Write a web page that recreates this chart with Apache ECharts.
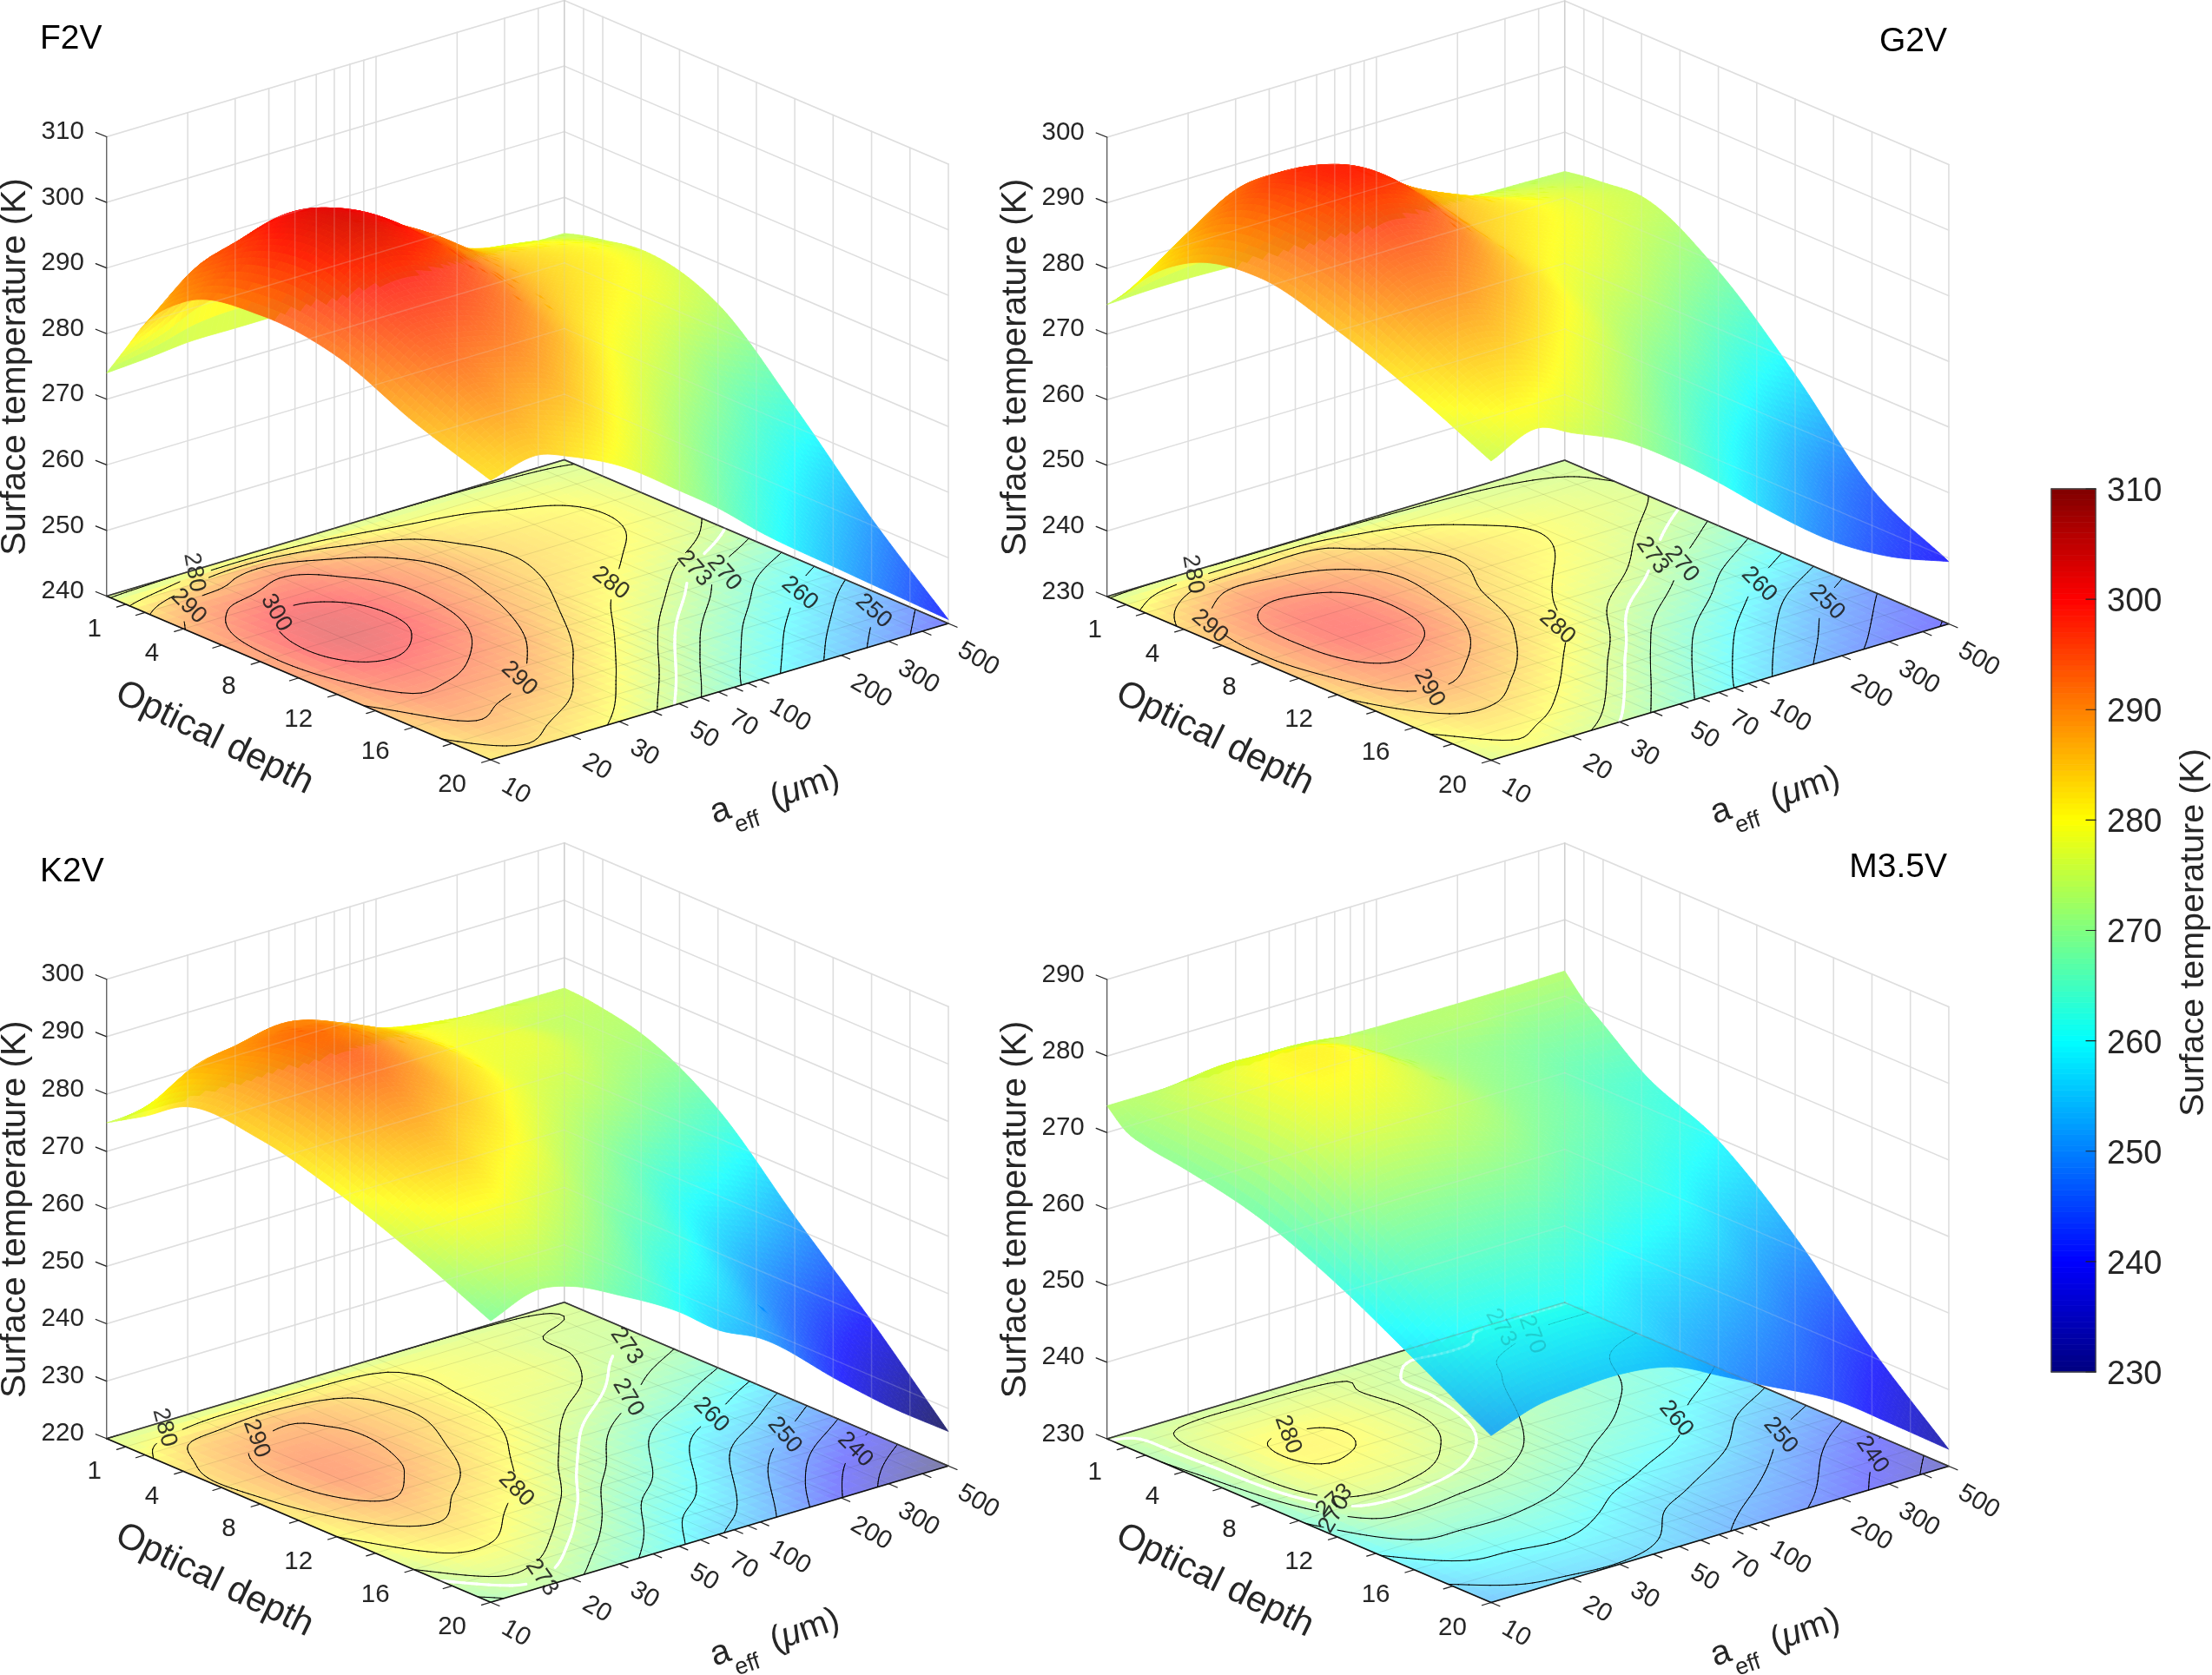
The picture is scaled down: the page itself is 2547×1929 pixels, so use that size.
<!DOCTYPE html>
<html><head><meta charset="utf-8">
<style>html,body{margin:0;padding:0;background:#fff}#c{width:2547px;height:1929px}</style>
<script src="https://cdn.jsdelivr.net/npm/echarts@6/dist/echarts.min.js"></script>
</head><body><div id="c"></div>
<script>
// ---------- values ----------
const opticalDepths=[0,1,2,4,8,12,16,20];
const aEffs=[10,15,20,30,50,70,100,200,300,500];
const opticalTicks=[1,2,4,6,8,10,12,14,16,18,20];
const opticalLabels=[1,4,8,12,16,20];
const aTicks=[10,20,30,40,50,60,70,80,90,100,200,300,400,500];
const aLabels=[10,20,30,50,70,100,200,300,500];
const colorbarTicks=[230,240,250,260,270,280,290,300,310];
const tempF2V=[
[274,274.5,275,275,275,275,275,274.8,274.6,274.5],
[279,282.5,286,288,284,281,279,278,277,275.4],
[284,289.5,290.5,293.5,289,286,283,279.6,278.5,276],
[289.8,295.5,298,298,293.5,290.3,286,282,280.3,277],
[292.8,300.5,303,301,294.5,290,286,280.7,278,273.7],
[291.5,297,297.5,295.3,290,285.2,280.5,272.8,267.5,263],
[286.5,291.5,290.2,288,281.6,277,272,262.5,257.5,251],
[282.6,284.3,282.5,279,272.5,268,262.5,253,247.5,240.6]];
const tempG2V=[
[274.5,274.8,274.8,274.6,274.5,274.5,274.4,274.3,274.2,274],
[277.5,282,284,284.5,284.5,281,279,276.5,275.5,274.5],
[281,286.5,289.5,289,287,284,281.5,277.5,276.5,274.8],
[285.7,292.5,295,294.5,290.5,287,284,279.5,277.5,275.2],
[288.5,295,298.5,297.5,289.8,284.7,281.5,276.5,273,268.8],
[285.5,292,293,290.2,284,280,275,268,263,258],
[281,285,285,281.5,275.5,271,266,256.5,251,245.6],
[275.6,278.5,276.2,273,266.8,262,256.5,247,243,239.5]];
const tempK2V=[
[275,275,275,275,275,275,275,274.9,274.8,274.7],
[277,279.7,281,281.5,281,280.5,279,277,276,274.5],
[279,285,286,287.5,285,282.5,280,277,275,274],
[283.5,288.5,291,291,287,284,280,277.5,274.5,272.5],
[283.5,290,293.5,291,285,281.5,277.5,272,268.5,265],
[280,285.5,287,283.7,279,274.3,270,260.8,257.5,252],
[275,279.5,279.5,276,270,265,261.5,250.5,245,239.5],
[269,272,270.8,266.8,260.8,255.6,252,240.2,233.5,226]];
const tempM35V=[
[273.5,273.5,273.5,273.4,273.4,273.4,273.3,273.2,273.2,273.3],
[271.2,275,276,276,275.7,274.8,273.2,272.8,270.8,270.5],
[270.4,275.8,277.5,277.5,276.5,274.2,272.5,270.5,269,268.5],
[269.6,276.3,279.8,280.5,277.5,274.4,272,268.7,266.3,264.5],
[267.3,275.8,278,277.5,274.5,272.3,269.5,265.5,263,259.7],
[263,269,269.5,269,268,266,263.5,259.4,255,251.4],
[257.5,261,261.3,261.8,259.7,257,255.2,250.3,246,241],
[251.8,254,254.5,254.8,253.4,250.8,248,242.5,238,232.2]];
const contourLevels=[235,240,245,250,255,260,265,270,273,275,280,285,290,295,300,305];

// ---------- layout ----------
const FONT='"Liberation Sans",Arial,sans-serif', INK='#262626';
const panels=[
 {name:'F2V',temps:tempF2V,zMin:240,zMax:310,x0:122.8,y0:686.5,title:[46,45,'left'],
  labels:[['280',100.8,-27.3,80],['290',94.3,11.7,45],['300',195.2,19.3,60],['280',580.4,-15,37],['290',475,95,43],['273',676.6,-31.7,49],['270',711,-26.7,49],['260',798,-3.3,40],['250',883,17.3,42]]},
 {name:'G2V',temps:tempG2V,zMin:230,zMax:300,x0:1274.7,y0:687,title:[2242,48,'right'],
  labels:[['280',98.9,-25.7,80],['290',118.4,34.3,40],['290',370.9,105.3,60],['280',518.5,35.3,42],['273',627.8,-47.3,55],['270',661.7,-37.3,50],['260',750.8,-14,45],['250',828.9,6.7,45]]},
 {name:'K2V',temps:tempK2V,zMin:220,zMax:300,x0:122.8,y0:1656.7,title:[46,1004,'left'],
  labels:[['280',66.4,-12.7,75],['290',172.4,0,70],['280',471.7,58.3,45],['273',598.6,-106.7,55],['270',600.5,-47.3,60],['260',696.2,-27.3,45],['250',780.7,-4,50],['240',862,12.7,45],['273',501,160,55]]},
 {name:'M3.5V',temps:tempM35V,zMin:230,zMax:290,x0:1274.7,y0:1657,title:[2242,999,'right'],
  labels:[['280',208.2,-5,70],['273',261.5,71.7,-40],['270',261.5,86.7,-60],['273',453.5,-128.3,60],['270',489.3,-120,70],['260',655.2,-23.3,50],['250',775.5,-4,50],['240',881,18.3,55]]}
];
const EX=[442.2,188.5],EY=[527,-157],EZ=529;
const NS=80,NF=40,SURF_ALPHA=.82,FLOOR_ALPHA=.5;

// ---------- helpers ----------
const clamp=x=>Math.max(0,Math.min(1,x));
const jet=T=>{const t=(T-230)/80;return [clamp(1.5-Math.abs(4*t-3))*255,clamp(1.5-Math.abs(4*t-2))*255,clamp(1.5-Math.abs(4*t-1))*255];};
const rgb=c=>'rgb('+Math.round(c[0])+','+Math.round(c[1])+','+Math.round(c[2])+')';
const mix=(c,b,a)=>[c[0]*a+b[0]*(1-a),c[1]*a+b[1]*(1-a),c[2]*a+b[2]*(1-a)];
const vOf=a=>Math.log10(a/10)/Math.log10(50);
function proj(p,u,v,T){const w=(T-p.zMin)/(p.zMax-p.zMin);
 return [p.x0+EX[0]*u+EY[0]*v,p.y0+EX[1]*u+EY[1]*v-w*EZ];}
function hermite(xs,ys,x){
 const n=xs.length;let i=0;while(i<n-2&&x>xs[i+1])i++;
 const slope=k=>(ys[k+1]-ys[k])/(xs[k+1]-xs[k]);
 const tan=k=>{if(k===0)return slope(0);if(k===n-1)return slope(n-2);
  const h0=xs[k]-xs[k-1],h1=xs[k+1]-xs[k];return (h1*slope(k-1)+h0*slope(k))/(h0+h1);};
 const h=xs[i+1]-xs[i],s=(x-xs[i])/h,s2=s*s,s3=s2*s;
 return (2*s3-3*s2+1)*ys[i]+(s3-2*s2+s)*h*tan(i)+(-2*s3+3*s2)*ys[i+1]+(s3-s2)*h*tan(i+1);
}
const vNodes=aEffs.map(vOf),uNodes=opticalDepths.map(o=>o/20);
function fine(table,N){
 const byCol=aEffs.map((_,j)=>{const col=table.map(r=>r[j]);
  return Array.from({length:N+1},(_,i)=>hermite(uNodes,col,i/N));});
 return Array.from({length:N+1},(_,i)=>{const row=byCol.map(c=>c[i]);
  return Array.from({length:N+1},(_,j)=>hermite(vNodes,row,j/N));});
}

// colour buffer so that the see-through surface layers add up without mesh seams
const BW=1274,BH=965,buf=new Float32Array(BW*BH*3).fill(255);
function sample(x,y){const i=Math.max(0,Math.min(BW-1,x/2|0)),j=Math.max(0,Math.min(BH-1,y/2|0)),k=(j*BW+i)*3;return [buf[k],buf[k+1],buf[k+2]];}
function paint(pts,c){
 let a=1e9,b=-1e9,d=1e9,e=-1e9;pts.forEach(p=>{a=Math.min(a,p[0]);b=Math.max(b,p[0]);d=Math.min(d,p[1]);e=Math.max(e,p[1]);});
 for(let j=Math.max(0,Math.floor(d/2)-1);j<=Math.min(BH-1,Math.ceil(e/2));j++)for(let i=Math.max(0,Math.floor(a/2)-1);i<=Math.min(BW-1,Math.ceil(b/2));i++){
  const x=i*2+1,y=j*2+1;let inside=false;
  for(let m=0,n=pts.length-1;m<pts.length;n=m++){const A=pts[m],B=pts[n];
   if((A[1]>y)!==(B[1]>y)&&x<(B[0]-A[0])*(y-A[1])/(B[1]-A[1])+A[0])inside=!inside;}
  if(inside){const k=(j*BW+i)*3;buf[k]=c[0];buf[k+1]=c[1];buf[k+2]=c[2];}
 }
}

// ---------- build marks ----------
const floorQuads=[],surfQuads=[],wallLines=[],floorLines=[],axisLines=[],contours=[],texts=[],underTexts=[];
function line(list,a,b,color,width,alpha){list.push({a,b,color,width,alpha:alpha==null?1:alpha});}

panels.forEach(p=>{
 const T=p.zMin,Tm=p.zMax,zTicks=[];for(let z=T;z<=Tm;z+=10)zTicks.push(z);
 const GRID='#dedede';
 // walls
 zTicks.forEach(z=>{line(wallLines,proj(p,0,0,z),proj(p,0,1,z),GRID,1.5);line(wallLines,proj(p,0,1,z),proj(p,1,1,z),GRID,1.5);});
 aTicks.forEach(a=>{if(a>10)line(wallLines,proj(p,0,vOf(a),T),proj(p,0,vOf(a),Tm),a===500?'#cfcfcf':GRID,1.5);
   line(floorLines,proj(p,0,vOf(a),T),proj(p,1,vOf(a),T),'#000',1,.09);});
 opticalTicks.forEach(o=>{line(wallLines,proj(p,o/20,1,T),proj(p,o/20,1,Tm),GRID,1.5);
   line(floorLines,proj(p,o/20,0,T),proj(p,o/20,1,T),'#000',1,.09);});
 // floor
 const ff=fine(p.temps,NF);
 for(let i=0;i<NF;i++)for(let j=NF-1;j>=0;j--){
  const pts=[[i,j],[i+1,j],[i+1,j+1],[i,j+1]].map(q=>proj(p,q[0]/NF,q[1]/NF,T));
  const t=(ff[i][j]+ff[i+1][j]+ff[i+1][j+1]+ff[i][j+1])/4,c=mix(jet(t),[255,255,255],FLOOR_ALPHA);
  paint(pts,c);floorQuads.push({pts,fill:rgb(c)});
 }
 // surface: back to front
 const fs=fine(p.temps,NS);
 for(let i=0;i<NS;i++)for(let j=NS-1;j>=0;j--){
  const cr=[[i,j],[i+1,j],[i+1,j+1],[i,j+1]];
  const pts=cr.map(q=>proj(p,q[0]/NS,q[1]/NS,fs[q[0]][q[1]]));
  const t=cr.reduce((s,q)=>s+fs[q[0]][q[1]],0)/4;
  const cx=pts.reduce((s,q)=>s+q[0],0)/4,cy=pts.reduce((s,q)=>s+q[1],0)/4;
  const c=mix(jet(t),sample(cx,cy),SURF_ALPHA);
  paint(pts,c);surfQuads.push({pts,fill:rgb(c)});
 }
 // contour lines on the floor (marching squares)
 const lab=p.labels.map(l=>[p.x0+l[1],p.y0+l[2]]);
 contourLevels.forEach(lv=>{
  const w=lv===273;
  for(let i=0;i<NS;i++)for(let j=0;j<NS;j++){
   const c=[[i,j],[i+1,j],[i+1,j+1],[i,j+1]],vals=c.map(q=>fs[q[0]][q[1]]),cross=[];
   for(let k=0;k<4;k++){const A=vals[k],B=vals[(k+1)%4];
    if((A<lv)!==(B<lv)){const f=(lv-A)/(B-A),P=c[k],Q=c[(k+1)%4];
     cross.push(proj(p,(P[0]+(Q[0]-P[0])*f)/NS,(P[1]+(Q[1]-P[1])*f)/NS,T));}}
   for(let k=0;k+1<cross.length;k+=2){
    const mx=(cross[k][0]+cross[k+1][0])/2,my=(cross[k][1]+cross[k+1][1])/2;
    if(lab.some(L=>Math.hypot(L[0]-mx,L[1]-my)<20))continue;
    line(contours,cross[k],cross[k+1],w?'#fff':'#000',w?3.2:1);
   }
  }
 });
 // frame and ticks
 const L=proj(p,0,0,T),F=proj(p,1,0,T),R=proj(p,1,1,T),B=proj(p,0,1,T);
 [[L,F],[F,R],[L,B],[B,R]].forEach(s=>line(axisLines,s[0],s[1],'#111',1.6));
 line(axisLines,L,proj(p,0,0,Tm),'#333',1);
 const tk=(q,dx,dy)=>line(axisLines,q,[q[0]+dx,q[1]+dy],'#222',1.2);
 zTicks.forEach(z=>{const q=proj(p,0,0,z);tk(q,-12.5,-5);
  texts.push({x:L[0]-26,y:q[1]-5.5,text:String(z),size:29.5,align:'right',color:INK});});
 opticalTicks.forEach(o=>tk(proj(p,o/20,0,T),-10.5,3.2));
 aTicks.forEach(a=>tk(proj(p,1,vOf(a),T),10,4.3));
 opticalLabels.forEach(o=>{const q=proj(p,o/20,0,T);
  texts.push({x:q[0]-28,y:q[1]+29,text:String(o),size:29.5,align:'right',color:INK});});
 aLabels.forEach(a=>{const q=proj(p,1,vOf(a),T),big=a>=100;
  texts.push({x:q[0]+(big?34.5:29),y:q[1]+(big?41:36),text:String(a),size:29.5,rot:-30,color:INK});});
 // titles
 texts.push({x:L[0]-104.8,y:L[1]-264,text:'Surface temperature (K)',size:40.5,rot:90,color:INK});
 texts.push({x:L[0]+124,y:L[1]+163.5,text:'Optical depth',size:42,rot:-26,color:INK});
 texts.push({x:L[0]+707,y:L[1]+248,text:'a',size:40,rot:19,color:INK});
 texts.push({x:L[0]+738,y:L[1]+261,text:'eff',size:27,rot:19,color:INK});
 texts.push({x:L[0]+804,y:L[1]+221,rich:'{a|(}{i|μ}{a|m)}',size:40,rot:19,color:INK});
 texts.push({x:p.title[0],y:p.title[1],text:p.name,size:39,align:p.title[2],color:'#000'});
 p.labels.forEach(l=>underTexts.push({x:p.x0+l[1],y:p.y0+l[2],text:l[0],size:27,rot:-l[3],color:'#1a1a1a'}));
});

// colour bar
const CB={x0:2362,x1:2413,top:563,bottom:1580};
const cbY=t=>CB.bottom-(t-230)/80*(CB.bottom-CB.top);
const cbQuads=[];
for(let t=230;t<310;t+=.5){cbQuads.push({pts:[[CB.x0,cbY(t)],[CB.x1,cbY(t)],[CB.x1,cbY(t+.5)],[CB.x0,cbY(t+.5)]],fill:rgb(jet(t+.25))});}
const cbLines=[];
[[CB.x0,CB.top,CB.x1,CB.top],[CB.x1,CB.top,CB.x1,CB.bottom],[CB.x1,CB.bottom,CB.x0,CB.bottom],[CB.x0,CB.bottom,CB.x0,CB.top]].forEach(s=>line(cbLines,[s[0],s[1]],[s[2],s[3]],'#444',1.3));
colorbarTicks.forEach(t=>{line(cbLines,[CB.x1-11,cbY(t)],[CB.x1,cbY(t)],'#222',1.2);
 texts.push({x:2426,y:cbY(t)+3.5,text:String(t),size:38,align:'left',color:INK});});
texts.push({x:2526,y:1074,text:'Surface temperature (K)',size:39.5,rot:90,color:INK});

// ---------- series ----------
const polySeries=(list,z)=>({type:'custom',coordinateSystem:'cartesian2d',silent:true,z,progressive:0,animation:false,clip:false,
 data:list.map(()=>[0,0]),
 renderItem:(pr,api)=>{const q=list[pr.dataIndex];
  return {type:'polygon',shape:{points:q.pts.map(s=>api.coord(s))},style:{fill:q.fill,stroke:q.fill,lineWidth:.8}};}});
const lineSeries=(list,z,k)=>({type:'custom',coordinateSystem:'cartesian2d',silent:true,z,progressive:0,animation:false,clip:false,
 data:list.map(()=>[0,0]),
 renderItem:(pr,api)=>{const l=list[pr.dataIndex],a=api.coord(l.a),b=api.coord(l.b);
  return {type:'line',shape:{x1:a[0],y1:a[1],x2:b[0],y2:b[1]},style:{stroke:l.color,lineWidth:l.width,opacity:l.alpha*k,lineCap:'round'}};}});
const textSeries=(list,z,k)=>({type:'custom',coordinateSystem:'cartesian2d',silent:true,z,progressive:0,animation:false,clip:false,
 data:list.map(()=>[0,0]),
 renderItem:(pr,api)=>{const t=list[pr.dataIndex],c=api.coord([t.x,t.y]),font='normal '+t.size+'px '+FONT;
  const style={x:0,y:0,fill:t.color,font,textAlign:t.align||'center',textVerticalAlign:'middle',opacity:k};
  if(t.rich){style.text=t.rich;style.rich={a:{font,fill:t.color},i:{font:'italic '+t.size+'px '+FONT,fill:t.color}};}
  else style.text=t.text;
  return {type:'text',x:c[0],y:c[1],rotation:(t.rot||0)*Math.PI/180,style};}});

const chart=echarts.init(document.getElementById('c'),null,{renderer:'canvas',width:2547,height:1929});
chart.setOption({
 animation:false,backgroundColor:'#fff',
 grid:{left:0,right:0,top:0,bottom:0},
 xAxis:{type:'value',min:0,max:2547,show:false},
 yAxis:{type:'value',min:0,max:1929,inverse:true,show:false},
 series:[
  lineSeries(wallLines,1,1),
  polySeries(floorQuads,2),
  lineSeries(floorLines,3,1),
  lineSeries(contours,4,1),
  textSeries(underTexts,5,.85),
  lineSeries(axisLines,6,1),
  polySeries(surfQuads,7),
  lineSeries(wallLines,8,.22),
  lineSeries(contours,8,.16),
  lineSeries(axisLines,8,.16),
  textSeries(underTexts,8,.16),
  polySeries(cbQuads,9),
  lineSeries(cbLines,10,1),
  textSeries(texts,11,1)
 ]
});
</script></body></html>
